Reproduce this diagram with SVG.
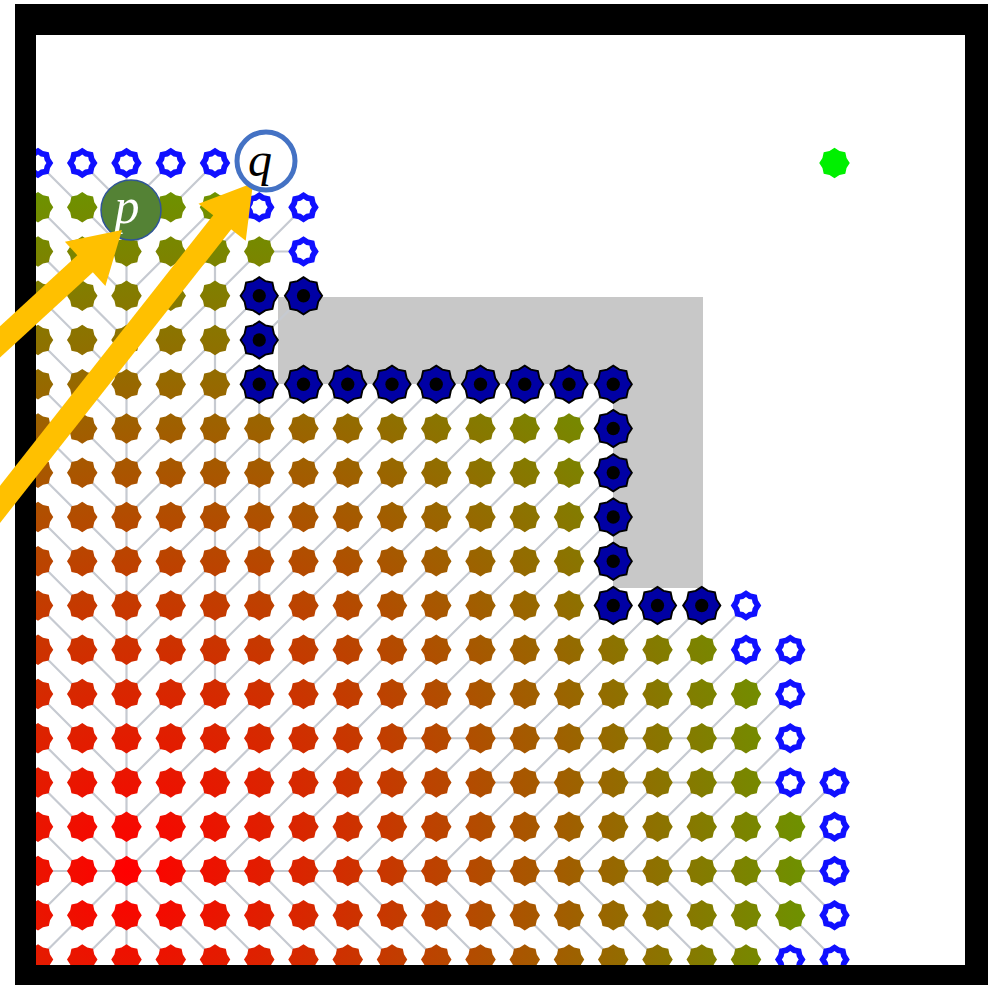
<svg xmlns="http://www.w3.org/2000/svg" width="994" height="985" viewBox="0 0 994 985">
<style>
.tree{fill:none;stroke:#c6cad1;stroke-width:0.05;stroke-linecap:round}
.arrow{stroke:#ffc000;stroke-width:23;fill:none}
.head{fill:#ffc000}
.lbl{font-family:"Liberation Serif","DejaVu Serif",serif;font-style:italic;text-anchor:middle}
</style>
<defs>
<clipPath id="clip"><rect x="36" y="35" width="929" height="930"/></clipPath>
<polygon id="s" points="0.345,0 0.272,0.1127 0.244,0.244 0.1127,0.272 0,0.345 -0.1127,0.272 -0.244,0.244 -0.272,0.1127 -0.345,0 -0.272,-0.1127 -0.244,-0.244 -0.1127,-0.272 0,-0.345 0.1127,-0.272 0.244,-0.244 0.272,-0.1127"/>
<g id="k"><use href="#s" transform="scale(1.22)" fill="#0000a4" stroke="#000" stroke-width="0.035"/><circle r="0.15" fill="#000"/></g>
<g id="h"><use href="#s" fill="#1010ff"/><use href="#s" transform="scale(0.55)" fill="#fff"/></g>
<g id="d5"><use href="#s" x="0"/><use href="#s" x="1"/><use href="#s" x="2"/><use href="#s" x="3"/><use href="#s" x="4"/></g>
<g id="d6"><use href="#d5"/><use href="#s" x="5"/></g>
<g id="d13"><use href="#d6"/><use href="#d6" x="6"/><use href="#s" x="12"/></g>
<g id="d16"><use href="#d13"/><use href="#s" x="13"/><use href="#s" x="14"/><use href="#s" x="15"/></g>
<g id="d17"><use href="#d16"/><use href="#s" x="16"/></g>
<g id="d18"><use href="#d17"/><use href="#s" x="17"/></g>
<radialGradient id="rg" gradientUnits="userSpaceOnUse" cx="2" cy="16" r="27">
<stop offset="0" stop-color="#ff0000"/><stop offset="1" stop-color="#00ff00"/>
</radialGradient>
<mask id="m" maskUnits="userSpaceOnUse" x="-2" y="-2" width="23" height="23">
<g fill="#fff">
<use href="#d5" y="1"/><use href="#d6" y="2"/><use href="#d5" y="3"/><use href="#d5" y="4"/><use href="#d5" y="5"/>
<use href="#d13" y="6"/><use href="#d13" y="7"/><use href="#d13" y="8"/><use href="#d13" y="9"/><use href="#d13" y="10"/>
<use href="#d16" y="11"/><use href="#d17" y="12"/><use href="#d17" y="13"/><use href="#d17" y="14"/>
<use href="#d18" y="15"/><use href="#d18" y="16"/><use href="#d18" y="17"/><use href="#d17" y="18"/>
</g>
</mask>
</defs>
<rect width="994" height="985" fill="#fff"/>
<g id="frame">
<rect x="15" y="4" width="973" height="990" fill="#000"/>
<rect x="36" y="35" width="929" height="930" fill="#fff"/>
</g>
<g clip-path="url(#clip)">
<polygon id="obstacle" points="278,297 703,297 703,588 613,588 613,384 278,384" fill="#c8c8c8"/>
<g transform="translate(38 163) scale(44.25)">
<g id="connectors">
<path class="tree" d="M2 1L3 0M2 2L4 0M2 3L4 1M2 4L5 1M2 5L6 1M2 6L5 3M2 7L6 3M2 8L5 5M2 9L6 5M2 10L7 5M2 11L8 5M2 12L9 5M2 13L10 5M2 14L11 5M2 15L12 5M2 16L13 5M3 16L13 6M4 16L13 7M5 16L13 8M6 16L13 9M7 16L13 10M8 16L14 10M9 16L15 10M10 16L16 10M11 16L16 11M12 16L17 11M13 16L17 12M14 16L17 13M15 16L17 14M16 16L18 14M17 16L18 15M5 2H6"/>
<path class="tree" d="M-1 16H18M8 13H16M10 14H17M2 0V19M4 2V12M5 5V10"/>
<path class="tree" d="M2 16L4 18M3 16L5 18M4 16L6 18M5 16L7 18M6 16L8 18M7 16L9 18M8 16L10 18M9 16L11 18M10 16L12 18M11 16L13 18M12 16L14 18M13 16L15 18M14 16L16 18M15 16L17 18M16 16L18 18M17 16L18 17M2 17L3 18"/>
<path class="tree" d="M0 0L2 2M1 0L2 1M-1 0L2 3M-1 1L2 4M-1 2L2 5M-1 3L2 6M-1 4L2 7M-1 5L2 8M-1 6L2 9M-1 7L2 10M-1 8L2 11M-1 9L2 12M-1 10L2 13M-1 11L2 14M-1 12L2 15M-1 13L2 16M-1 14L1 16M-1 18L1 16M-1 19L2 16M0 19L2 17"/>
</g>
<g id="visited">
<rect x="-2" y="-2" width="23" height="23" fill="url(#rg)" mask="url(#m)"/>
</g>
<g id="walls">
<use href="#k" x="5" y="3"/><use href="#k" x="6" y="3"/><use href="#k" x="5" y="4"/>
<use href="#k" x="5" y="5"/><use href="#k" x="6" y="5"/><use href="#k" x="7" y="5"/><use href="#k" x="8" y="5"/><use href="#k" x="9" y="5"/><use href="#k" x="10" y="5"/><use href="#k" x="11" y="5"/><use href="#k" x="12" y="5"/><use href="#k" x="13" y="5"/>
<use href="#k" x="13" y="6"/><use href="#k" x="13" y="7"/><use href="#k" x="13" y="8"/><use href="#k" x="13" y="9"/>
<use href="#k" x="13" y="10"/><use href="#k" x="14" y="10"/><use href="#k" x="15" y="10"/>
</g>
<g id="frontier">
<use href="#h" x="0" y="0"/><use href="#h" x="1" y="0"/><use href="#h" x="2" y="0"/><use href="#h" x="3" y="0"/><use href="#h" x="4" y="0"/>
<use href="#h" x="5" y="1"/><use href="#h" x="6" y="1"/><use href="#h" x="6" y="2"/>
<use href="#h" x="16" y="10"/><use href="#h" x="16" y="11"/><use href="#h" x="17" y="11"/><use href="#h" x="17" y="12"/><use href="#h" x="17" y="13"/>
<use href="#h" x="17" y="14"/><use href="#h" x="18" y="14"/><use href="#h" x="18" y="15"/><use href="#h" x="18" y="16"/><use href="#h" x="18" y="17"/>
<use href="#h" x="17" y="18"/><use href="#h" x="18" y="18"/>
</g>
<g id="goal"><use href="#s" x="18" y="0" fill="#00f000"/></g>
</g>
</g>
<g id="node-p">
<circle cx="131" cy="210" r="30" fill="#548235" stroke="#2f5597" stroke-width="1.5"/>
<text class="lbl" x="127" y="223" font-size="50" fill="#fff">p</text>
</g>
<g id="arrows">
<line class="arrow" x1="-10" y1="351" x2="87" y2="262"/>
<polygon class="head" points="122,230 105.4,285.9 64.9,241.7"/>
<line class="arrow" x1="-10" y1="517" x2="224" y2="220"/>
<polygon class="head" points="253,183 245.7,240.8 198.5,203.8"/>
</g>
<g id="node-q">
<circle cx="266" cy="161" r="29" fill="#fff" stroke="#4472c4" stroke-width="5"/>
<text class="lbl" x="260" y="176" font-size="48" fill="#000">q</text>
</g>
</svg>
